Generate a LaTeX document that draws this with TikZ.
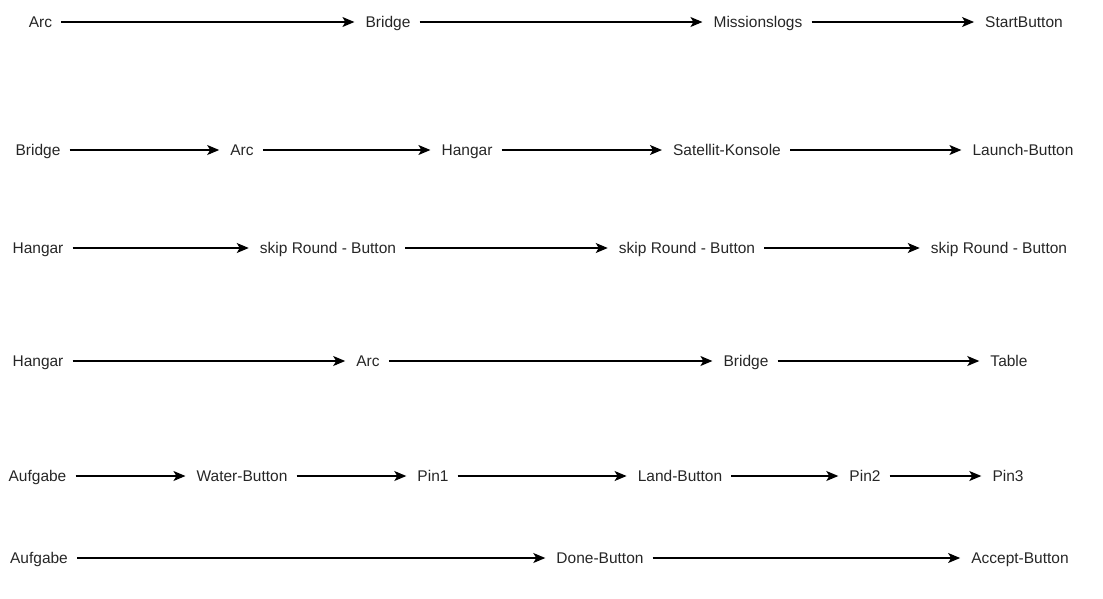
\documentclass[tikz,border=0pt]{standalone}
\usepackage{fontspec}
\setmainfont{Liberation Sans}
\usetikzlibrary{arrows.meta}

\begin{document}
\begin{tikzpicture}[x=1pt, y=-1pt,
    lbl/.style={inner xsep=0pt, inner ysep=0pt, text height=11pt, text depth=0pt, text=black!85, font=\fontsize{15.5}{18}\selectfont},
    flow/.style={-{Stealth[length=12pt, width=10pt, inset=3pt]}, line width=1.1pt, shorten <=9pt, shorten >=11pt}]
    \useasboundingbox (0,0) rectangle (1103,598);

    % Row 1
    \node[lbl] (r1a) at (40.5,22) {Arc};
    \node[lbl] (r1b) at (388,22) {Bridge};
    \node[lbl] (r1c) at (758,22) {Missionslogs};
    \node[lbl] (r1d) at (1024,22) {StartButton};
    \draw[flow] (r1a) -- (r1b);
    \draw[flow] (r1b) -- (r1c);
    \draw[flow] (r1c) -- (r1d);

    % Row 2
    \node[lbl] (r2a) at (38,150) {Bridge};
    \node[lbl] (r2b) at (242,150) {Arc};
    \node[lbl] (r2c) at (467,150) {Hangar};
    \node[lbl] (r2d) at (727,150) {Satellit-Konsole};
    \node[lbl] (r2e) at (1023,150) {Launch-Button};
    \draw[flow] (r2a) -- (r2b);
    \draw[flow] (r2b) -- (r2c);
    \draw[flow] (r2c) -- (r2d);
    \draw[flow] (r2d) -- (r2e);

    % Row 3
    \node[lbl] (r3a) at (38,248) {Hangar};
    \node[lbl] (r3b) at (328,248) {skip Round - Button};
    \node[lbl] (r3c) at (687,248) {skip Round - Button};
    \node[lbl] (r3d) at (999,248) {skip Round - Button};
    \draw[flow] (r3a) -- (r3b);
    \draw[flow] (r3b) -- (r3c);
    \draw[flow] (r3c) -- (r3d);

    % Row 4
    \node[lbl] (r4a) at (38,361) {Hangar};
    \node[lbl] (r4b) at (368,361) {Arc};
    \node[lbl] (r4c) at (746,361) {Bridge};
    \node[lbl] (r4d) at (1009,361) {Table};
    \draw[flow] (r4a) -- (r4b);
    \draw[flow] (r4b) -- (r4c);
    \draw[flow] (r4c) -- (r4d);

    % Row 5
    \node[lbl] (r5a) at (37.5,476) {Aufgabe};
    \node[lbl] (r5b) at (242,476) {Water-Button};
    \node[lbl] (r5c) at (433,476) {Pin1};
    \node[lbl] (r5d) at (680,476) {Land-Button};
    \node[lbl] (r5e) at (865,476) {Pin2};
    \node[lbl] (r5f) at (1008,476) {Pin3};
    \draw[flow] (r5a) -- (r5b);
    \draw[flow] (r5b) -- (r5c);
    \draw[flow] (r5c) -- (r5d);
    \draw[flow] (r5d) -- (r5e);
    \draw[flow] (r5e) -- (r5f);

    % Row 6
    \node[lbl] (r6a) at (39,558) {Aufgabe};
    \node[lbl] (r6b) at (600,558) {Done-Button};
    \node[lbl] (r6c) at (1020,558) {Accept-Button};
    \draw[flow] (r6a) -- (r6b);
    \draw[flow] (r6b) -- (r6c);
\end{tikzpicture}
\end{document}
